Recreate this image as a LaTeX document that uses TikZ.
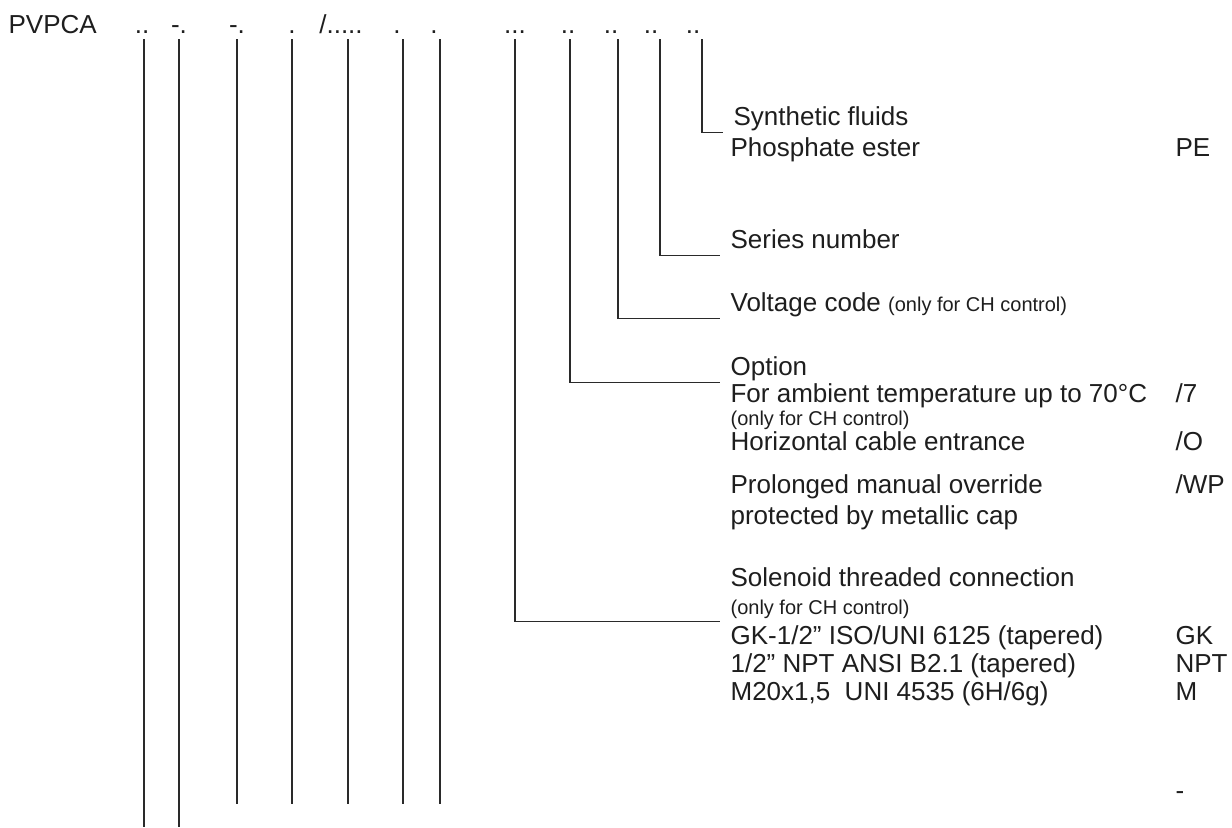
\documentclass[tikz,border=0pt]{standalone}
\usepackage{fontspec}
\setmainfont{Liberation Sans}
\usepackage{xcolor}
\usetikzlibrary{positioning}
\definecolor{inkgray}{HTML}{1E1E1E}
\definecolor{linegray}{HTML}{2A2A2A}
\newcommand\fsmain{\fontsize{13}{15}\selectfont}
\newcommand\fssmall{\fontsize{10}{12}\selectfont}

\begin{document}
\begin{tikzpicture}[
  x=0.5pt, y=-0.5pt,
  line width=0.6pt,
  every node/.style={text=inkgray},
  slot/.style={anchor=base, inner sep=0pt, outer ysep=3pt, font=\fsmain},
  desc/.style={anchor=base west, inner xsep=5pt, inner ysep=0pt, text depth=3.5pt, font=\fsmain},
  note/.style={desc, font=\fssmall},
  code/.style={anchor=base west, inner sep=0pt, font=\fsmain},
  wire/.style={draw=linegray, line width=0.6pt}
]
  \path[fill=white, use as bounding box] (0,0) rectangle (1232,827);
  \coordinate (stop) at (0,804);
  \coordinate (edge) at (0,827);
  \coordinate (codecol) at (1175,0);

  % type code
  \node[code] (pvpca) at (8,33) {PVPCA};
  \node[slot] (f1) at (142,33) {..};
  \node[slot] (f2) at (179,33) {-.};
  \node[slot] (f3) at (237,33) {-.};
  \node[slot] (f4) at (292,33) {.};
  \node[slot] (f5) at (341,33) {/.....};
  \node[slot] (f6) at (397,33) {.};
  \node[slot] (f7) at (434,33) {.};
  \node[slot] (f8) at (515,33) {...};
  \node[slot] (f9) at (568,33) {..};
  \node[slot] (f10) at (611,33) {..};
  \node[slot] (f11) at (651,33) {..};
  \node[slot] (f12) at (693,33) {..};

  % descriptions
  \node[desc] (synth) at (723,125) {Synthetic fluids};
  \node[desc] (phos) at (720,156) {Phosphate ester};
  \node[desc] (series) at (720,248) {Series number};
  \node[desc] (volt) at (720,311) {Voltage code {\fssmall (only for CH control)}};
  \node[desc] (opt) at (720,375) {Option};
  \node[desc] (ambient) at (720,402) {For ambient temperature up to 70°C};
  \node[note] (ambnote) at (720,425) {(only for CH control)};
  \node[desc] (horiz) at (720,450) {Horizontal cable entrance};
  \node[desc] (prolong) at (720,493) {Prolonged manual override};
  \node[desc] (metcap) at (720,524) {protected by metallic cap};
  \node[desc] (solenoid) at (720,586) {Solenoid threaded connection};
  \node[note] (solnote) at (720,614) {(only for CH control)};
  \node[desc] (gkline) at (720,644) {GK-1/2'' ISO/UNI 6125 (tapered)};
  \node[desc] (nptline) at (720,672) {1/2'' NPT ANSI B2.1 (tapered)};
  \node[desc] (mline) at (720,700) {M20x1,5\ \ UNI 4535 (6H/6g)};

  % codes
  \node[code] (pe) at (phos.base -| codecol) {PE};
  \node[code] (c7) at (ambient.base -| codecol) {/7};
  \node[code] (co) at (horiz.base -| codecol) {/O};
  \node[code] (cwp) at (prolong.base -| codecol) {/WP};
  \node[code] (cgk) at (gkline.base -| codecol) {GK};
  \node[code] (cnpt) at (nptline.base -| codecol) {NPT};
  \node[code] (cm) at (mline.base -| codecol) {M};
  \node[code] (cnone) at (1175,799) {-};

  % leaders
  \draw[wire] ([xshift=1pt]f1.south) -- ([xshift=1pt]f1.south |- edge);
  \draw[wire] (f2.south) -- (f2.south |- edge);
  \draw[wire] (f3.south) -- (f3.south |- stop);
  \draw[wire] (f4.south) -- (f4.south |- stop);
  \draw[wire] ([xshift=3.5pt]f5.south) -- ([xshift=3.5pt]f5.south |- stop);
  \draw[wire] ([xshift=3pt]f6.south) -- ([xshift=3pt]f6.south |- stop);
  \draw[wire] ([xshift=3pt]f7.south) -- ([xshift=3pt]f7.south |- stop);
  \draw[wire] (f8.south) |- (solnote.south west);
  \draw[wire] ([xshift=1pt]f9.south) |- (opt.south west);
  \draw[wire] ([xshift=3.5pt]f10.south) |- (volt.south west);
  \draw[wire] ([xshift=4.5pt]f11.south) |- (series.south west);
  \draw[wire] ([xshift=4.5pt]f12.south) |- (synth.south west);
\end{tikzpicture}
\end{document}
